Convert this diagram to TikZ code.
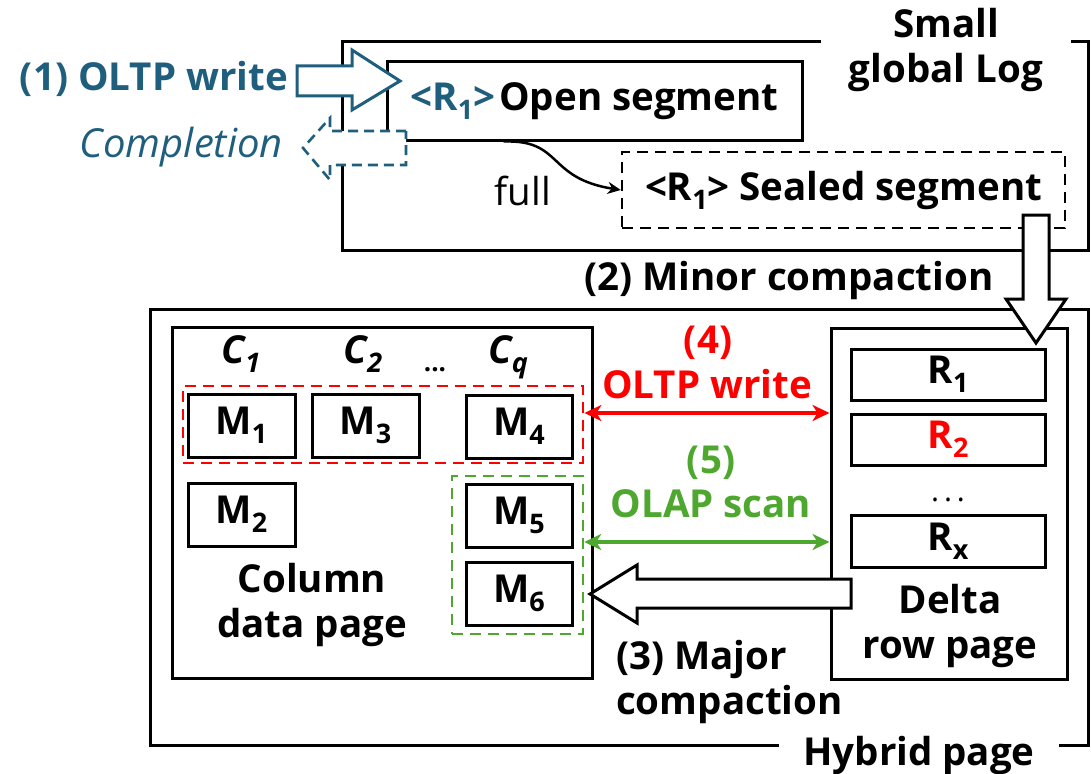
\documentclass[tikz,border=0pt]{standalone}
\usepackage{fontspec}
\setmainfont{Open Sans}
\usetikzlibrary{arrows.meta,calc}
\definecolor{logblue}{RGB}{31,95,125}
\definecolor{writered}{RGB}{255,0,0}
\definecolor{scangreen}{RGB}{78,167,46}
% lowered, shrunken index text
\newcommand\sbs[1]{\raisebox{-0.24em}{\scalebox{0.7}{#1}}}
\begin{document}
\begin{tikzpicture}[x=1pt,y=-1pt,
  every node/.style={inner sep=0pt, font=\bfseries\fontsize{38.5}{45}\selectfont},
  frame/.style={draw, line width=3pt},
  cell/.style={draw, line width=3pt, minimum width=107pt, minimum height=63pt},
  rowcell/.style={draw, line width=3pt, minimum width=194pt, minimum height=51pt},
  blockarrow/.style={draw, line width=3pt, fill=white, line join=miter},
  dualarrow/.style={line width=3.5pt, {Stealth[length=17pt,width=16pt,inset=5pt]}-{Stealth[length=17pt,width=16pt,inset=5pt]}},
  groupline/.style={draw, dash pattern=on 11pt off 7pt},
]
\useasboundingbox (0,0) rectangle (1091,773);

% ---- small global log ----
\node[frame, minimum width=746pt, minimum height=208pt] (log) at (715,146) {};
\node[fill=white, inner xsep=28pt, inner ysep=2pt, align=center] (logname) at (946,50) {Small\\global Log};
\node[frame, minimum width=415pt, minimum height=78pt] (open) at (594.5,101)
  {\textcolor{logblue}{<R\sbs{1}>}\kern4pt Open segment};
\node[groupline, line width=2.5pt, minimum width=443pt, minimum height=76pt] (sealed) at (843.5,190)
  {<R\sbs{1}> Sealed segment};
\node[font=\fontsize{38.5}{45}\selectfont, anchor=base] (fulltxt) at (523,205) {full};
\coordinate (fullstart) at ([xshift=118pt]open.south west);
\draw[line width=2.5pt, -{Stealth[length=13pt,width=12pt]}]
  (fullstart) .. controls +(60,-2) and +(-75,-12) .. (sealed.west);

\node[text=logblue, anchor=base east] (oltpw) at (288,91) {(1) OLTP write};
\node[text=logblue, font=\itshape\fontsize{40}{46}\selectfont, anchor=base east] (compl) at (283,157) {Completion};
\node[anchor=base] (minor) at (789,290) {(2) Minor compaction};

% ---- hybrid page ----
\node[frame, minimum width=938pt, minimum height=436pt] (hybrid) at (619,527) {};
\node[fill=white, inner xsep=24pt, inner ysep=2pt, anchor=base] (hybname) at (919,765) {Hybrid page};

% column data page
\node[frame, minimum width=420pt, minimum height=351pt] (col) at (382,502.5) {};
\node[groupline, draw=writered, line width=2.8pt, minimum width=400pt, minimum height=77pt] (redset) at (383,424.5) {};
\node[groupline, draw=scangreen, line width=2.4pt, minimum width=131pt, minimum height=158pt] (greenset) at (517.5,555) {};
\node[cell] (m1) at (241.5,425.5) {M\sbs{1}};
\node[cell] (m3) at (365.5,425.5) {M\sbs{3}};
\node[cell, minimum width=106pt] (m4) at (519,426.5) {M\sbs{4}};
\node[cell] (m2) at (241.5,514.5) {M\sbs{2}};
\node[cell, minimum width=106pt] (m5) at (519,515.5) {M\sbs{5}};
\node[cell, minimum width=106pt] (m6) at (519,593.5) {M\sbs{6}};
\node[font=\bfseries\itshape\fontsize{38.5}{45}\selectfont, anchor=base] (c1) at (241,363) {C\sbs{1}};
\node[font=\bfseries\itshape\fontsize{38.5}{45}\selectfont, anchor=base] (c2) at (363,363) {C\sbs{2}};
\node[anchor=base, font=\bfseries\fontsize{26}{30}\selectfont] (cdots) at (435,371) {...};
\node[font=\bfseries\itshape\fontsize{38.5}{45}\selectfont, anchor=base] (cq) at (508,363) {C\sbs{q}};
\node[align=center] (coltxt) at (312,605) {Column\\data page};

% delta row page
\node[frame, minimum width=236pt, minimum height=351pt] (delta) at (949,503.5) {};
\node[rowcell] (r1) at (948,374.5) {R\sbs{1}};
\node[rowcell, text=writered] (r2) at (948,439.5) {R\sbs{2}};
\node[anchor=base, font=\fontsize{30}{36}\selectfont] (rdots) at (948,501) {.\kern5pt.\kern5pt.};
\node[rowcell, minimum height=52pt] (rx) at (948,541) {R\sbs{x}};
\node[align=center] (deltatxt) at (950,626) {Delta\\row page};

% OLTP write / OLAP scan
\path ([yshift=11.5pt]redset.east) coordinate (wl);
\draw[dualarrow, writered] (wl) -- (wl -| delta.west);
\node[text=writered, anchor=base] (n4) at (708,353) {(4)};
\node[text=writered, anchor=base] (wtxt) at (707,398) {OLTP write};
\path ([yshift=13pt]greenset.east) coordinate (sl);
\draw[dualarrow, scangreen] (sl) -- (sl -| delta.west);
\node[text=scangreen, anchor=base] (n5) at (711,473) {(5)};
\node[text=scangreen, anchor=base] (stxt) at (711,517) {OLAP scan};
\node[align=left, anchor=west] (major) at (616,682) {(3) Major\\compaction};

% ---- block arrows ----
\draw[blockarrow, draw=logblue] (297,66) -- (352,66) -- (352,50) -- (400,81)
  -- (352,110) -- (352,96) -- (297,96) -- cycle;
\draw[blockarrow, draw=logblue, dash pattern=on 10pt off 6pt, line width=2.6pt]
  (406,131) -- (330,131) -- (330,118) -- (303,148) -- (330,180) -- (330,165) -- (406,165) -- cycle;
\draw[blockarrow] (1023,215) -- (1049,215) -- (1049,299) -- (1066,299) -- (1036,343)
  -- (1006,299) -- (1023,299) -- cycle;
\draw[blockarrow] (851,579) -- (637,579) -- (637,565) -- (590,594) -- (637,623)
  -- (637,608) -- (851,608) -- cycle;
\end{tikzpicture}
\end{document}
